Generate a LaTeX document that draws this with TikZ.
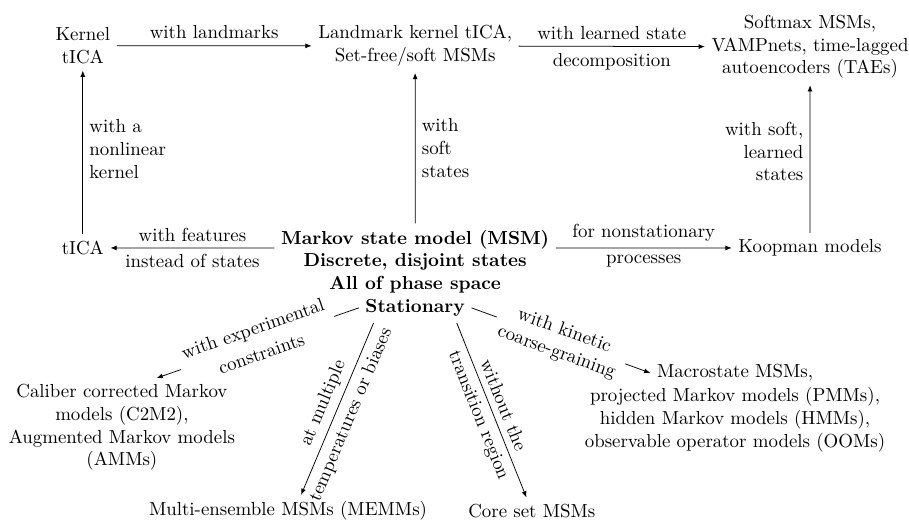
\documentclass[tikz,border=0pt]{standalone}
\usepackage{tikz}
\usetikzlibrary{arrows.meta,positioning}

\begin{document}
\begin{tikzpicture}[
  scale=0.97,
  txt/.style={align=center},
  bold/.style={align=center, font=\bfseries},
  arrow/.style={-{Latex[length=3.3pt,width=2.6pt]}},
  edgelbl/.style={midway, align=center},
  cover/.style={midway, sloped, fill=white, outer sep=-0.6pt}
]
\useasboundingbox (0,0) rectangle (17.45,10.0);

% top row
\node[txt] (kerneltica) at (1.59,9.12) {Kernel\\tICA};
\node[txt] (landmark) at (7.97,9.12) {Landmark kernel tICA,\\Set-free/soft MSMs};
\node[txt] (softmax) at (15.55,9.10) {Softmax MSMs,\\VAMPnets, time-lagged\\autoencoders (TAEs)};

% middle row
\node[txt] (tica) at (1.59,5.24) {tICA};
\node[bold] (msm) at (7.97,4.98) {Markov state model (MSM)\\Discrete, disjoint states\\All of phase space};
\node[bold] (stat) at (7.97,4.09) {Stationary};
\node[txt] (koopman) at (15.55,5.24) {Koopman models};

% bottom row
\node[txt] (caliber) at (2.34,1.79) {Caliber corrected Markov\\models (C2M2),\\Augmented Markov models\\(AMMs)};
\node[txt] (memm) at (5.53,0.19) {Multi-ensemble MSMs (MEMMs)};
\node[txt] (core) at (10.21,0.19) {Core set MSMs};
\node[txt] (macro) at (14.11,2.84) {Macrostate MSMs,};
\node[txt] (macrolist) at (14.11,1.94) {projected Markov models (PMMs),\\hidden Markov models (HMMs),\\observable operator models (OOMs)};

% generalizations
\draw[arrow] (kerneltica) -- (landmark) node[edgelbl, above] {with landmarks};
\draw[arrow] (landmark) -- (softmax)
  node[edgelbl, above] {with learned state} node[edgelbl, below] {decomposition};
\draw[arrow] (tica) -- (kerneltica) node[edgelbl, pos=0.52, right, align=left] {with a\\nonlinear\\kernel};
\draw[arrow] (msm) -- (landmark) node[edgelbl, right, align=left] {with\\soft\\states};
\draw[arrow] (koopman.north -| softmax) -- (softmax) node[edgelbl, pos=0.55, left, align=right] {with soft,\\learned\\states};
\draw[arrow] (msm.west |- tica) -- (tica)
  node[edgelbl, above] {with features} node[edgelbl, below] {instead of states};
\draw[arrow] (msm.east |- koopman) -- (koopman)
  node[edgelbl, above] {for nonstationary} node[edgelbl, below] {processes};

% from the stationary MSM
\draw[arrow] (stat.west) -- (caliber.55)
  node[cover, above] {with experimental} node[cover, below] {constraints};
\draw[arrow] (stat.200) -- (memm.51)
  node[edgelbl, sloped, above] {at multiple} node[edgelbl, sloped, below] {temperatures or biases};
\draw[arrow] (stat.340) -- (core)
  node[edgelbl, sloped, above] {without the} node[edgelbl, sloped, below] {transition region};
\draw[arrow] (stat.east) -- (macro.west)
  node[cover, above] {with kinetic} node[cover, below] {coarse-graining};

\end{tikzpicture}
\end{document}
